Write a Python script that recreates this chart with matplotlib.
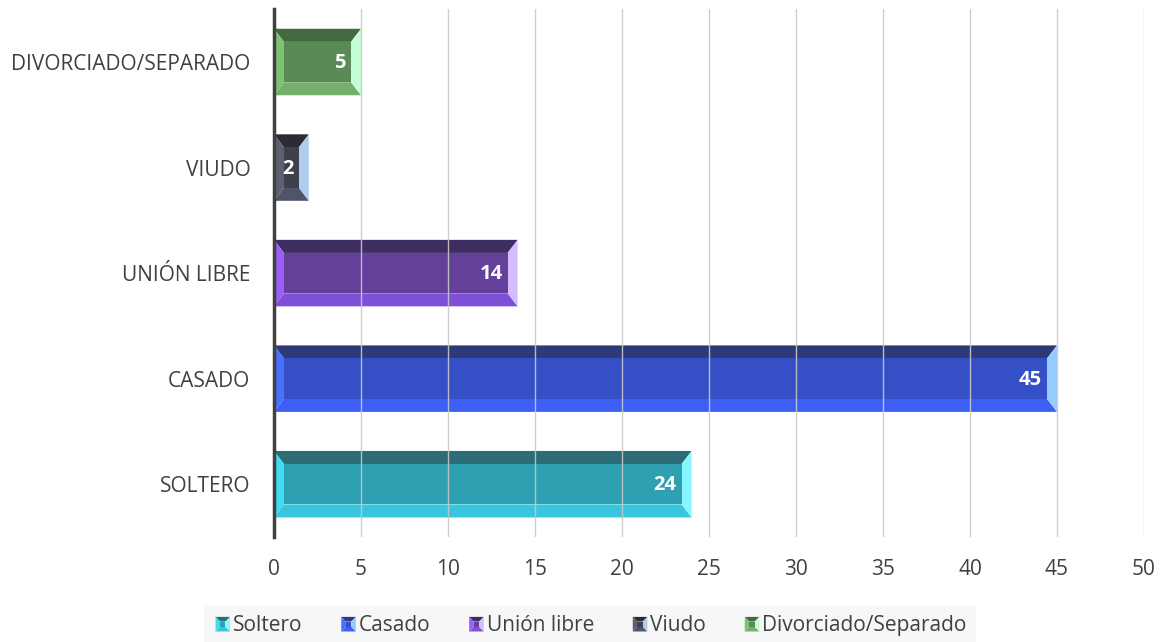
import matplotlib.pyplot as plt
from matplotlib.patches import Polygon, Rectangle
from matplotlib.legend_handler import HandlerBase

plt.rcParams['font.family'] = ['Open Sans', 'DejaVu Sans']

# --- Data ---
categories = ["SOLTERO", "CASADO", "UNIÓN LIBRE", "VIUDO", "DIVORCIADO/SEPARADO"]
legend_names = ["Soltero", "Casado", "Unión libre", "Viudo", "Divorciado/Separado"]
values = [24, 45, 14, 2, 5]
x_ticks = [0, 5, 10, 15, 20, 25, 30, 35, 40, 45, 50]

# face, top bevel, bottom bevel, left bevel, right bevel
palettes = [
    ("#2f9fb2", "#2b6d76", "#38c6de", "#3fdcf2", "#86f6ff"),
    ("#354fc6", "#2e3a78", "#3e5ff5", "#4870ff", "#95ccff"),
    ("#64409a", "#3e2d62", "#7f4fd8", "#9a5ff6", "#d6bcff"),
    ("#3e414b", "#2a2c32", "#50546a", "#5d6070", "#b0ccec"),
    ("#5a8a55", "#446a40", "#74b06c", "#7cc474", "#c4ffd4"),
]

BAR_H = 0.63
PX_PER_UNIT_X = 17.4     # horizontal pixels per value unit
PX_PER_CAT = 105.0       # vertical pixels per category step


def draw_bevel_bar(ax, y, w, pal, bx_px=10, by_px=13):
    face, top, bot, left, right = pal
    bx = min(bx_px / PX_PER_UNIT_X, w / 3)
    by = by_px / PX_PER_CAT
    y0, y1 = y - BAR_H / 2, y + BAR_H / 2
    # y grows upward in data coords, so y1 is the visual top edge
    outer = [(0, y1), (w, y1), (w, y0), (0, y0)]
    inner = [(bx, y1 - by), (w - bx, y1 - by), (w - bx, y0 + by), (bx, y0 + by)]
    ax.add_patch(Polygon([outer[0], outer[1], inner[1], inner[0]], closed=True,
                         facecolor=top, edgecolor="none", zorder=2))
    ax.add_patch(Polygon([outer[3], outer[2], inner[2], inner[3]], closed=True,
                         facecolor=bot, edgecolor="none", zorder=2))
    ax.add_patch(Polygon([outer[0], inner[0], inner[3], outer[3]], closed=True,
                         facecolor=left, edgecolor="none", zorder=2))
    ax.add_patch(Polygon([outer[1], inner[1], inner[2], outer[2]], closed=True,
                         facecolor=right, edgecolor="none", zorder=2))
    ax.add_patch(Polygon(inner, closed=True, facecolor=face, edgecolor="none", zorder=2))


class BevelHandler(HandlerBase):
    def create_artists(self, legend, orig_handle, xdescent, ydescent, width,
                       height, fontsize, trans):
        face, top, bot, left, right = orig_handle.pal
        s = height * 1.0
        x0 = xdescent + width - s
        y0 = -ydescent + (height - s) / 2
        b = s * 0.32
        o = [(x0, y0 + s), (x0 + s, y0 + s), (x0 + s, y0), (x0, y0)]
        i = [(x0 + b, y0 + s - b), (x0 + s - b, y0 + s - b), (x0 + s - b, y0 + b), (x0 + b, y0 + b)]
        arts = [
            Polygon([o[0], o[1], i[1], i[0]], facecolor=top, edgecolor="none", transform=trans),
            Polygon([o[3], o[2], i[2], i[3]], facecolor=bot, edgecolor="none", transform=trans),
            Polygon([o[0], i[0], i[3], o[3]], facecolor=left, edgecolor="none", transform=trans),
            Polygon([o[1], i[1], i[2], o[2]], facecolor=right, edgecolor="none", transform=trans),
            Polygon(i, facecolor=face, edgecolor="none", transform=trans),
        ]
        return arts


fig = plt.figure(figsize=(11.64, 6.42), dpi=100)
ax = fig.add_axes([0.2354, 0.1636, 0.7474, 0.822])

ypos = list(range(len(categories)))
for y, v, pal in zip(ypos, values, palettes):
    draw_bevel_bar(ax, y, v, pal)
    ax.text(v - 15 / PX_PER_UNIT_X, y - 0.01, str(v), ha="right", va="center",
            color="white", fontsize=14.5, fontweight="bold", zorder=4)

ax.set_xlim(0, 50)
ax.set_ylim(-0.5, len(categories) - 0.5)
ax.set_xticks(x_ticks)
ax.set_yticks(ypos)
ax.set_yticklabels(categories)
ax.tick_params(axis="both", length=0, labelsize=15, colors="#404040")
ax.tick_params(axis="x", pad=16)
ax.tick_params(axis="y", pad=17)

ax.grid(axis="x", color="#c8c8c8", linewidth=1, zorder=3, alpha=0.9)
ax.set_axisbelow(False)
for side in ["top", "right", "bottom"]:
    ax.spines[side].set_visible(False)
ax.spines["left"].set_color("#404040")
ax.spines["left"].set_linewidth(2.5)
ax.spines["left"].set_zorder(5)

handles = []
for pal in palettes:
    h = Rectangle((0, 0), 1, 1)
    h.pal = pal
    handles.append(h)
leg = fig.legend(handles, legend_names, loc="lower center", bbox_to_anchor=(0.507, -0.006),
                 ncol=5, frameon=True, fontsize=15, handler_map={Rectangle: BevelHandler()},
                 handlelength=0.8, handletextpad=0.15, columnspacing=1.75,
                 borderpad=0.45, borderaxespad=0.0, fancybox=False)
leg.get_frame().set_facecolor("#f5f5f5")
leg.get_frame().set_edgecolor("none")
for t in leg.get_texts():
    t.set_color("#404040")

fig.savefig("out.png", dpi=100)
